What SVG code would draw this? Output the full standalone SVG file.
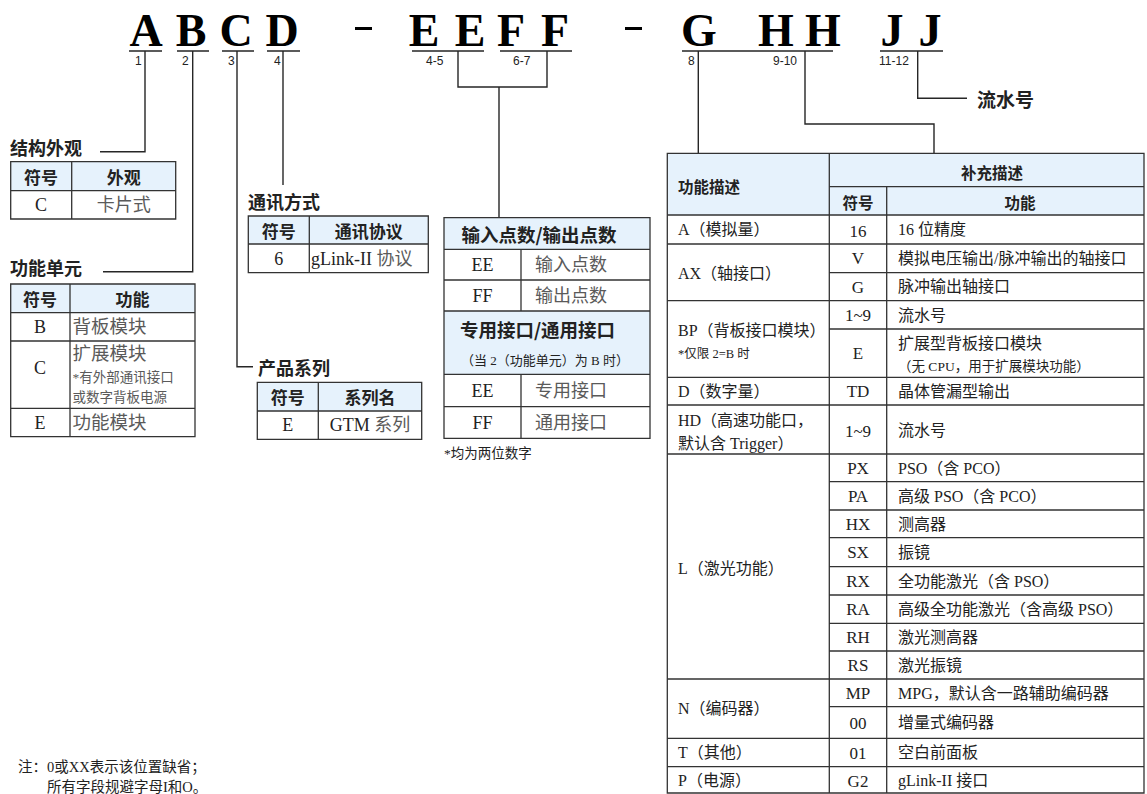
<svg xmlns="http://www.w3.org/2000/svg" width="1147" height="794" viewBox="0 0 1147 794">
<style>
.bg{fill:#fff}
.ln{stroke:#262626;stroke-width:1.4;fill:none}
.ul{stroke:#262626;stroke-width:1.6;fill:none}
.tb{stroke:#333;stroke-width:1.3;fill:none}
.hd{fill:#e6f2fc}
.big{font-family:"Liberation Serif",serif;font-weight:bold;font-size:46px;fill:#000;text-anchor:middle}
.num{font-family:"Liberation Sans",sans-serif;font-size:12px;fill:#222}
.ttl{font-family:"Noto Sans CJK SC",sans-serif;font-weight:bold;font-size:18px;fill:#222;dominant-baseline:central}
.th{font-family:"Noto Sans CJK SC",sans-serif;font-weight:bold;font-size:17px;fill:#222;text-anchor:middle;dominant-baseline:central}
.td{font-family:"Liberation Serif","Noto Sans CJK SC",serif;font-size:18px;fill:#222;dominant-baseline:central}
.c{text-anchor:middle}
.gr{fill:#5a5a5a}
.rt{font-family:"Liberation Serif","Noto Sans CJK SC",serif;font-size:16px;fill:#222;dominant-baseline:central}
.rl{font-size:17px}
.rh{font-family:"Noto Sans CJK SC",sans-serif;font-weight:bold;font-size:15.5px;fill:#222;dominant-baseline:central}
.note{font-family:"Liberation Serif","Noto Sans CJK SC",serif;font-size:14.5px;fill:#222;dominant-baseline:central}
</style>
<rect class="bg" x="0" y="0" width="1147" height="794"/>

<g id="code">
<text class="big" x="146" y="46">A</text>
<text class="big" x="191" y="46">B</text>
<text class="big" x="236" y="46">C</text>
<text class="big" x="282" y="46">D</text>
<rect x="355" y="27" width="17" height="3" fill="#000"/>
<text class="big" x="424" y="46">E</text>
<text class="big" x="470" y="46">E</text>
<text class="big" x="511" y="46">F</text>
<text class="big" x="555" y="46">F</text>
<rect x="625" y="27" width="17" height="3" fill="#000"/>
<text class="big" x="699" y="46">G</text>
<text class="big" x="776" y="46">H</text>
<text class="big" x="823" y="46">H</text>
<text class="big" x="892" y="46">J</text>
<text class="big" x="930" y="46">J</text>
<path class="ul" d="M129 51H162M177 51H209M222 51H254M267 51H300M412 51H484M500 51H572M682 51H833M880 51H943"/>
<text class="num" x="135" y="65">1</text>
<text class="num" x="182" y="65">2</text>
<text class="num" x="228" y="65">3</text>
<text class="num" x="274" y="65">4</text>
<text class="num" x="426" y="65">4-5</text>
<text class="num" x="513" y="65">6-7</text>
<text class="num" x="688" y="65">8</text>
<text class="num" x="773" y="65">9-10</text>
<text class="num" x="879" y="65">11-12</text>
</g>

<g id="connectors">
<path class="ln" d="M145 51V151.7H100"/>
<path class="ln" d="M192.7 51V271.7H103"/>
<path class="ln" d="M237 51V366.7H253"/>
<path class="ln" d="M283 51V185"/>
<path class="ln" d="M458 51V87H547V51M499 87V217.7"/>
<path class="ln" d="M698.3 51V153.3"/>
<path class="ln" d="M805 51V124H934V153.3"/>
<path class="ln" d="M917.7 51V98.3H967"/>
</g>

<g id="serial">
<text class="ttl" x="977" y="98" style="font-size:19px">流水号</text>
</g>

<g id="appearance">
<text class="ttl" x="10" y="146.5">结构外观</text>
<rect class="hd" x="10.7" y="161.7" width="165" height="29"/>
<path class="tb" d="M10.7 161.7H175.7V219H10.7ZM10.7 190.7H175.7M71.7 161.7V219"/>
<text class="th" x="41" y="176.5">符号</text>
<text class="th" x="123.7" y="176.5">外观</text>
<text class="td c" x="41" y="205">C</text>
<text class="td c gr" x="123.7" y="205">卡片式</text>
</g>

<g id="function-unit">
<text class="ttl" x="10" y="267">功能单元</text>
<rect class="hd" x="10.7" y="284" width="184.3" height="28.7"/>
<path class="tb" d="M10.7 284H195V436.7H10.7ZM10.7 312.7H195M10.7 341H195M10.7 408.3H195M70 284V436.7"/>
<text class="th" x="40" y="298.5">符号</text>
<text class="th" x="132.5" y="298.5">功能</text>
<text class="td c" x="40" y="327">B</text>
<text class="td gr" x="72.5" y="327" style="font-size:18.5px">背板模块</text>
<text class="td c" x="40" y="368.3">C</text>
<text class="td gr" x="72.5" y="354" style="font-size:18.5px">扩展模块</text>
<text class="td gr" x="72.5" y="377" style="font-size:13.5px">*有外部通讯接口</text>
<text class="td gr" x="72.5" y="397.5" style="font-size:13.5px">或数字背板电源</text>
<text class="td c" x="40" y="422.5">E</text>
<text class="td gr" x="72.5" y="422.5" style="font-size:18.5px">功能模块</text>
</g>

<g id="comm">
<text class="ttl" x="248" y="200.5">通讯方式</text>
<rect class="hd" x="248.3" y="216" width="180" height="28"/>
<path class="tb" d="M248.3 216H428.3V272.7H248.3ZM248.3 244H428.3M309.3 216V272.7"/>
<text class="th" x="278.8" y="230">符号</text>
<text class="th" x="368.8" y="230">通讯协议</text>
<text class="td c" x="278.8" y="258.5">6</text>
<text class="td" x="311" y="258.5">gLink-II <tspan class="gr">协议</tspan></text>
</g>

<g id="series">
<text class="ttl" x="258" y="367">产品系列</text>
<rect class="hd" x="257.3" y="382.3" width="164.4" height="28.7"/>
<path class="tb" d="M257.3 382.3H421.7V439.3H257.3ZM257.3 411H421.7M318.3 382.3V439.3"/>
<text class="th" x="287.8" y="396.8">符号</text>
<text class="th" x="370" y="396.8">系列名</text>
<text class="td c" x="287.8" y="425.2">E</text>
<text class="td c" x="370" y="425.2">GTM <tspan class="gr">系列</tspan></text>
</g>

<g id="io">
<rect class="hd" x="444" y="217.7" width="206" height="31.6"/>
<rect class="hd" x="444" y="311" width="206" height="63.3"/>
<path class="tb" d="M444 217.7H650V438.3H444ZM444 249.3H650M444 280H650M444 311H650M444 374.3H650M444 406.7H650M521 249.3V311M521 374.3V438.3"/>
<text class="th" x="539" y="233.5" style="font-size:18.5px">输入点数/输出点数</text>
<text class="td c" x="482.5" y="265">EE</text>
<text class="td gr" x="535" y="265">输入点数</text>
<text class="td c" x="482.5" y="295.5">FF</text>
<text class="td gr" x="535" y="295.5">输出点数</text>
<text class="th" x="537.5" y="329" style="font-size:18.5px">专用接口/通用接口</text>
<text class="td c" x="545" y="360" style="font-size:13px">（当 2（功能单元）为 B 时）</text>
<text class="td c" x="482.5" y="390.5">EE</text>
<text class="td gr" x="535" y="390.5">专用接口</text>
<text class="td c" x="482.5" y="422.5">FF</text>
<text class="td gr" x="535" y="422.5">通用接口</text>
<text class="td" x="444" y="453.5" style="font-size:13.5px">*均为两位数字</text>
</g>

<g id="func-table">
<rect class="hd" x="667.3" y="153.3" width="476.7" height="61.7"/>
<path class="tb" d="M667.3 153.3H1144V793H667.3Z"/>
<path class="tb" d="M829.3 186.7H1144M667.3 215H1144M667.3 244H1144M829.3 272.7H1144M667.3 300.7H1144M829.3 329H1144M667.3 377.3H1144M667.3 405H1144M667.3 454H1144M829.3 481.7H1144M829.3 510H1144M829.3 537.7H1144M829.3 566.7H1144M829.3 595H1144M829.3 623.3H1144M829.3 651H1144M667.3 679H1144M829.3 706.7H1144M667.3 738.3H1144M667.3 766.7H1144M829.3 153.3V793M886.7 186.7V793"/>
<text class="rh" x="678" y="186">功能描述</text>
<text class="rh" x="992" y="172" text-anchor="middle">补充描述</text>
<text class="rh" x="858" y="202" text-anchor="middle">符号</text>
<text class="rh" x="1020" y="202" text-anchor="middle">功能</text>

<text class="rt" x="678" y="229.5">A（模拟量）</text>
<text class="rt rl c" x="858" y="231">16</text>
<text class="rt" x="898" y="229.5">16 位精度</text>

<text class="rt" x="678" y="273">AX（轴接口）</text>
<text class="rt rl c" x="858" y="258.5">V</text>
<text class="rt" x="898" y="258.5">模拟电压输出/脉冲输出的轴接口</text>
<text class="rt rl c" x="858" y="287">G</text>
<text class="rt" x="898" y="286.5">脉冲输出轴接口</text>

<text class="rt" x="678" y="330">BP（背板接口模块）</text>
<text class="rt" x="678" y="353.5" style="font-size:12.5px">*仅限 2=B 时</text>
<text class="rt rl c" x="858" y="315">1~9</text>
<text class="rt" x="898" y="315">流水号</text>
<text class="rt rl c" x="858" y="353.5">E</text>
<text class="rt" x="898" y="343.5">扩展型背板接口模块</text>
<text class="rt" x="898" y="366" style="font-size:13.5px">（无 CPU，用于扩展模块功能）</text>

<text class="rt" x="678" y="391">D（数字量）</text>
<text class="rt rl c" x="858" y="391.5">TD</text>
<text class="rt" x="898" y="391">晶体管漏型输出</text>

<text class="rt" x="678" y="420">HD（高速功能口，</text>
<text class="rt" x="678" y="443">默认含 Trigger）</text>
<text class="rt rl c" x="858" y="431">1~9</text>
<text class="rt" x="898" y="430">流水号</text>

<text class="rt" x="678" y="568">L（激光功能）</text>
<text class="rt rl c" x="858" y="468">PX</text>
<text class="rt" x="898" y="468">PSO（含 PCO）</text>
<text class="rt rl c" x="858" y="496">PA</text>
<text class="rt" x="898" y="496">高级 PSO（含 PCO）</text>
<text class="rt rl c" x="858" y="524">HX</text>
<text class="rt" x="898" y="524">测高器</text>
<text class="rt rl c" x="858" y="552.5">SX</text>
<text class="rt" x="898" y="552">振镜</text>
<text class="rt rl c" x="858" y="581">RX</text>
<text class="rt" x="898" y="581">全功能激光（含 PSO）</text>
<text class="rt rl c" x="858" y="609.5">RA</text>
<text class="rt" x="898" y="609">高级全功能激光（含高级 PSO）</text>
<text class="rt rl c" x="858" y="637.5">RH</text>
<text class="rt" x="898" y="637">激光测高器</text>
<text class="rt rl c" x="858" y="665.5">RS</text>
<text class="rt" x="898" y="665">激光振镜</text>

<text class="rt" x="678" y="708">N（编码器）</text>
<text class="rt rl c" x="858" y="693">MP</text>
<text class="rt" x="898" y="693">MPG，默认含一路辅助编码器</text>
<text class="rt rl c" x="858" y="723.5">00</text>
<text class="rt" x="898" y="722.5">增量式编码器</text>

<text class="rt" x="678" y="752.5">T（其他）</text>
<text class="rt rl c" x="858" y="753">01</text>
<text class="rt" x="898" y="752.5">空白前面板</text>

<text class="rt" x="678" y="780">P（电源）</text>
<text class="rt rl c" x="858" y="781">G2</text>
<text class="rt" x="898" y="780">gLink-II 接口</text>
</g>

<g id="footnote">
<text class="note" x="18" y="767">注：0或XX表示该位置缺省；</text>
<text class="note" x="47" y="787">所有字段规避字母I和O。</text>
</g>
</svg>
